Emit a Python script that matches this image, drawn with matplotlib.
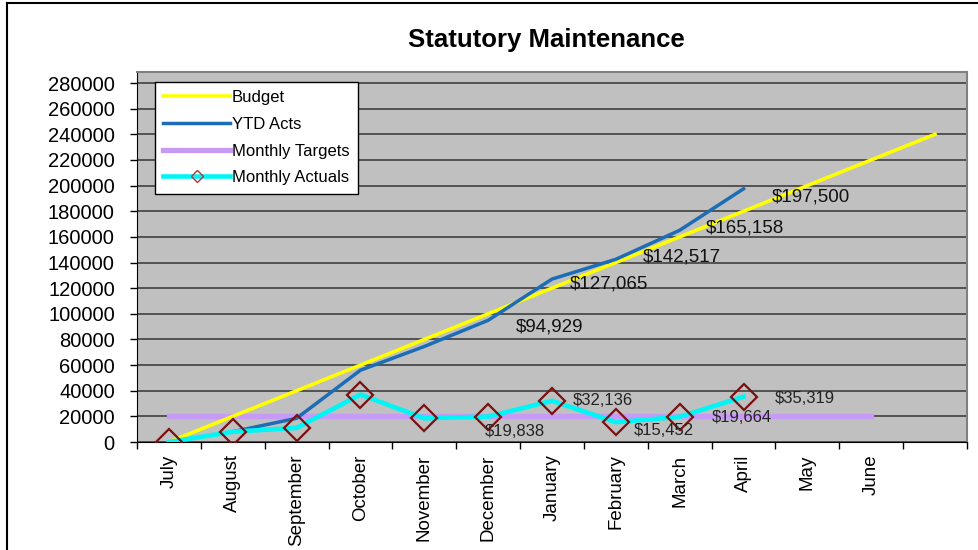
import matplotlib
matplotlib.use("Agg")
import matplotlib.pyplot as plt
from matplotlib.lines import Line2D
import numpy as np

plt.rcParams['font.family'] = ['Liberation Sans', 'DejaVu Sans']

# ---- data ----
months = ['July', 'August', 'September', 'October', 'November', 'December',
          'January', 'February', 'March', 'April', 'May', 'June', '']
budget = [0, 20000, 40000, 60000, 80000, 100000, 120000, 140000, 160000,
          180000, 200000, 220000, 240000]
ytd_acts = [None, 8000, 18500, 56000, 74500, 94929, 127065, 142517, 165158,
            197500, None, None, None]
monthly_targets = [20000] * 12 + [None]
monthly_actuals = [0, 8000, 11000, 37000, 18500, 19838, 32136, 15452, 19664,
                   35319, None, None, None]

# which points get a value label, and label offsets (pixels)
ytd_labels = {5: (61, -7), 6: (57, -5), 7: (66, 2), 8: (65, 2), 9: (67, -8)}
act_labels = {5: (27, -15), 6: (51, 0), 7: (48, -8), 8: (62, -1), 9: (61, -2)}

def arr(v):
    return np.array([np.nan if a is None else a for a in v], dtype=float)

x = np.arange(len(months))

fig = plt.figure(figsize=(9.79, 5.5), dpi=100)
ax = fig.add_axes([137 / 979, 108 / 550, 830 / 979, 370 / 550])
ax.set_facecolor('#C0C0C0')

ax.plot(x, arr(budget), color='#FFFF00', lw=2.6, label='Budget', zorder=3)
ax.plot(x, arr(ytd_acts), color='#1C6DB5', lw=2.5, label='YTD Acts', zorder=4)
ax.plot(x, arr(monthly_targets), color='#C79AF5', lw=3.8,
        label='Monthly Targets', zorder=2)
ax.plot(x, arr(monthly_actuals), color='#00F5F5', lw=3.3, marker='D',
        markersize=13, markerfacecolor='none', markeredgecolor='#7A1010',
        markeredgewidth=1.6, label='Monthly Actuals', zorder=5)

for i, off in ytd_labels.items():
    ax.annotate(f"${ytd_acts[i]:,.0f}", (x[i], ytd_acts[i]), xytext=off,
                textcoords='offset pixels', ha='center', va='center',
                fontsize=13.5, color='#111111', zorder=6)
for i, off in act_labels.items():
    ax.annotate(f"${monthly_actuals[i]:,.0f}", (x[i], monthly_actuals[i]),
                xytext=off, textcoords='offset pixels', ha='center',
                va='center', fontsize=12, color='#222222', zorder=6)

# axes
ax.set_xlim(-0.5, len(months) - 0.5)
ax.set_ylim(0, 288600)
ax.set_yticks(np.arange(0, 280001, 20000))
ax.yaxis.grid(True, color='#404040', lw=1.2)
ax.set_axisbelow(True)
ax.tick_params(axis='y', direction='out', length=5, width=1, pad=11,
               labelsize=14.5, colors='black')
ax.set_xticks(x)
ax.set_xticklabels(months, rotation=90, fontsize=13.5)
ax.set_xticks(np.arange(-0.5, len(months), 1), minor=True)
ax.tick_params(axis='x', which='major', length=0, pad=9)
ax.tick_params(axis='x', which='minor', direction='out', length=5, width=1)
for s in ['top', 'right']:
    ax.spines[s].set_color('#808080')
    ax.spines[s].set_linewidth(1.5)
ax.spines['left'].set_color('black')
ax.spines['bottom'].set_color('black')

leg = ax.legend(loc='upper left', bbox_to_anchor=(0.0217, 0.973),
                fontsize=12, frameon=True, fancybox=False,
                edgecolor='black', facecolor='white', framealpha=1,
                handlelength=4.0, handletextpad=0.1, labelspacing=0.7,
                borderpad=0.5, borderaxespad=0)
leg.get_frame().set_linewidth(1)
for h in leg.legend_handles:
    if h.get_marker() == 'D':
        h.set_markersize(6)
        h.set_markeredgewidth(1)
        h.set_color('#00F5F5')
        h.set_markeredgecolor('#C03030')

fig.text(0.558, 0.927, 'Statutory Maintenance', ha='center', va='center',
         fontsize=18.5, fontweight='bold')

# outer chart frame (top and left edges visible)
fig.add_artist(Line2D([7 / 979, 1], [1 - 3 / 550, 1 - 3 / 550],
                      color='black', lw=1.5, transform=fig.transFigure))
fig.add_artist(Line2D([7 / 979, 7 / 979], [0, 1 - 3 / 550],
                      color='black', lw=1.5, transform=fig.transFigure))

fig.savefig('out.png', dpi=100)
